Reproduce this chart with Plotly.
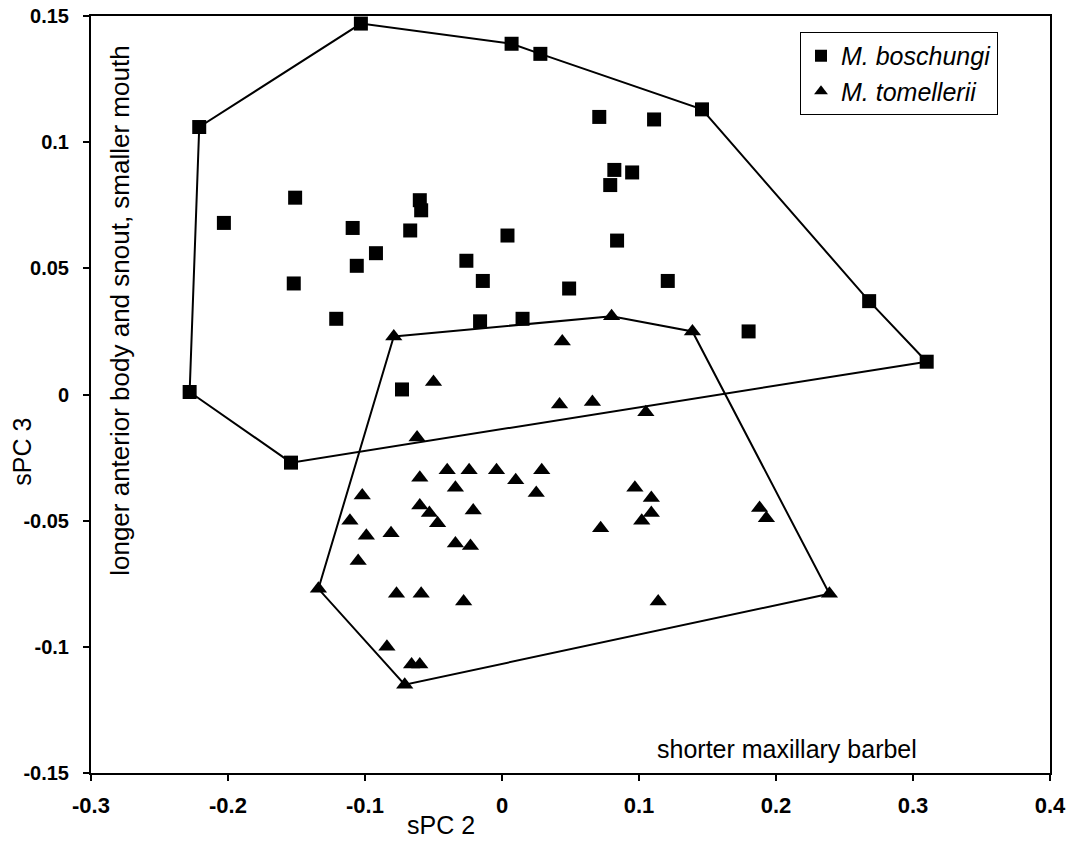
import plotly.graph_objects as go

# M. boschungi (squares)
bos_x = [-0.103, 0.007, 0.028, -0.221, 0.146, 0.071, 0.111, 0.082, 0.095, 0.079,
         -0.151, -0.060, -0.059, -0.203, -0.109, -0.067, 0.004, -0.092, -0.106, -0.026,
         0.084, -0.152, -0.014, 0.049, 0.121, 0.268, -0.121, -0.016, 0.015, 0.180,
         0.310, -0.228, -0.073, -0.154]
bos_y = [0.147, 0.139, 0.135, 0.106, 0.113, 0.110, 0.109, 0.089, 0.088, 0.083,
         0.078, 0.077, 0.073, 0.068, 0.066, 0.065, 0.063, 0.056, 0.051, 0.053,
         0.061, 0.044, 0.045, 0.042, 0.045, 0.037, 0.030, 0.029, 0.030, 0.025,
         0.013, 0.001, 0.002, -0.027]
# hull vertex order (indices into bos arrays)
bos_hull = [31, 3, 0, 1, 2, 4, 25, 30, 33, 31]

# M. tomellerii (triangles)
tom_x = [-0.079, 0.080, 0.139, 0.044, -0.050, 0.042, 0.066, 0.105, -0.062, -0.060,
         -0.040, -0.024, -0.004, 0.010, 0.029, -0.034, 0.025, -0.102, -0.060, -0.053,
         -0.021, -0.047, -0.111, -0.099, -0.081, -0.034, -0.023, -0.105, -0.134, -0.077,
         -0.059, -0.028, 0.097, 0.109, 0.109, 0.102, 0.072, 0.114, 0.188, 0.193,
         0.239, -0.084, -0.066, -0.060, -0.071]
tom_y = [0.023, 0.031, 0.025, 0.021, 0.005, -0.004, -0.003, -0.007, -0.017, -0.033,
         -0.030, -0.030, -0.030, -0.034, -0.030, -0.037, -0.039, -0.040, -0.044, -0.047,
         -0.046, -0.051, -0.050, -0.056, -0.055, -0.059, -0.060, -0.066, -0.077, -0.079,
         -0.079, -0.082, -0.037, -0.041, -0.047, -0.050, -0.053, -0.082, -0.045, -0.049,
         -0.079, -0.100, -0.107, -0.107, -0.115]
tom_hull = [0, 1, 2, 40, 44, 28, 0]

x_ticks = [-0.3, -0.2, -0.1, 0, 0.1, 0.2, 0.3, 0.4]
x_tick_labels = ["-0.3", "-0.2", "-0.1", "0", "0.1", "0.2", "0.3", "0.4"]
y_ticks = [-0.15, -0.1, -0.05, 0, 0.05, 0.1, 0.15]
y_tick_labels = ["-0.15", "-0.1", "-0.05", "0", "0.05", "0.1", "0.15"]

FONT = "Liberation Sans, Arial, sans-serif"

W, H = 1071, 843
# plot-area edges in page pixels
PL, PR, PT, PB = 91.0, 1050.0, 16.0, 773.5


def px_x(px):
    return (px - PL) / (PR - PL)


def px_y(py):
    return (PB - py) / (PB - PT)


fig = go.Figure()

fig.add_trace(go.Scatter(
    x=[bos_x[i] for i in bos_hull], y=[bos_y[i] for i in bos_hull],
    mode="lines", line=dict(color="black", width=2), showlegend=False, hoverinfo="skip"))
fig.add_trace(go.Scatter(
    x=[tom_x[i] for i in tom_hull], y=[tom_y[i] for i in tom_hull],
    mode="lines", line=dict(color="black", width=2), showlegend=False, hoverinfo="skip"))

fig.add_trace(go.Scatter(
    x=bos_x, y=bos_y, mode="markers", name="<i>M. boschungi</i>",
    marker=dict(symbol="square", size=14, color="black")))
fig.add_trace(go.Scatter(
    x=tom_x, y=tom_y, mode="markers", name="<i>M. tomellerii</i>",
    marker=dict(symbol="triangle-up", size=15, color="black")))

fig.update_layout(
    width=W, height=H,
    margin=dict(l=PL, r=W - PR, t=PT, b=H - PB, autoexpand=False),
    paper_bgcolor="white", plot_bgcolor="white",
    font=dict(family=FONT, color="black", size=17),
    showlegend=True,
    legend=dict(x=px_x(800), y=px_y(32), xanchor="left", yanchor="top",
                bordercolor="black", borderwidth=1, bgcolor="white",
                font=dict(size=25, family=FONT), itemsizing="constant",
                tracegroupgap=0),
    xaxis=dict(range=[-0.3, 0.4], tickvals=x_ticks, ticktext=x_tick_labels,
               showgrid=False, zeroline=False, showline=True, linecolor="black",
               linewidth=2, mirror=True, ticks="outside", ticklen=6, tickwidth=2,
               tickcolor="black", ticklabelstandoff=6, ticklabeloverflow="allow",
               automargin=False, tickfont=dict(size=22, weight="bold")),
    yaxis=dict(range=[-0.15, 0.15], tickvals=y_ticks, ticktext=y_tick_labels,
               showgrid=False, zeroline=False, showline=True, linecolor="black",
               linewidth=2, mirror=True, ticks="outside", ticklen=6, tickwidth=2,
               tickcolor="black", ticklabelstandoff=10, ticklabeloverflow="allow",
               automargin=False, tickfont=dict(size=20, weight="bold")),
    annotations=[
        dict(text="sPC 2", xref="paper", yref="paper", x=px_x(441), y=px_y(826),
             xanchor="center", yanchor="middle", showarrow=False, font=dict(size=25)),
        dict(text="sPC 3", xref="paper", yref="paper", x=px_x(22), y=px_y(452),
             xanchor="center", yanchor="middle", showarrow=False, textangle=-90,
             font=dict(size=25)),
        dict(text="longer anterior body and snout, smaller mouth", xref="paper", yref="paper",
             x=px_x(120), y=px_y(311), xanchor="center", yanchor="middle",
             showarrow=False, textangle=-90, font=dict(size=26)),
        dict(text="shorter maxillary barbel", xref="paper", yref="paper",
             x=px_x(787), y=px_y(749), xanchor="center", yanchor="middle",
             showarrow=False, font=dict(size=25)),
    ],
)

fig.write_html("out.html",
               config={"displayModeBar": False},
               post_script="document.body.style.margin='0';document.body.style.overflow='hidden';")
